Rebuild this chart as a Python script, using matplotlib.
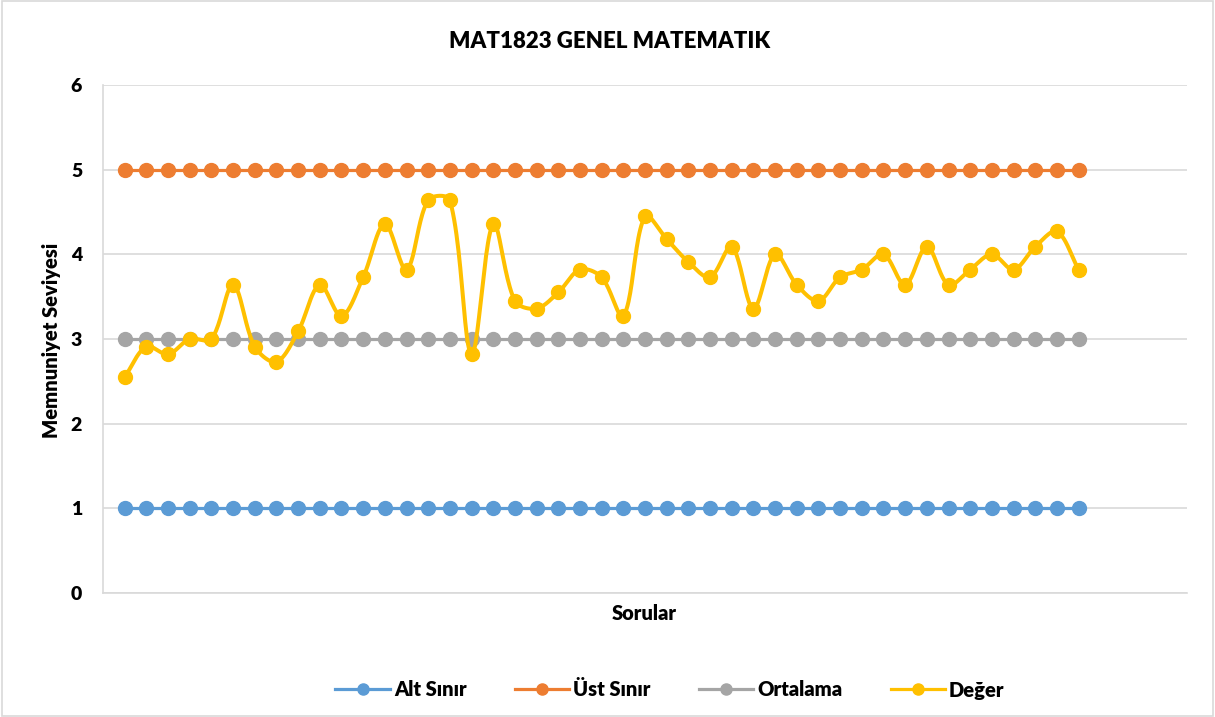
import numpy as np
import matplotlib
matplotlib.use("Agg")
import matplotlib.pyplot as plt
from matplotlib.lines import Line2D
from matplotlib.patches import Rectangle

plt.rcParams['font.family'] = ['Lato', 'DejaVu Sans']

title = "MAT1823 GENEL MATEMATIK"
ylabel = "Memnuniyet Seviyesi"
xlabel = "Sorular"
series_names = ["Alt Sınır", "Üst Sınır", "Ortalama", "Değer"]
colors = ["#5B9BD5", "#ED7D31", "#A5A5A5", "#FFC000"]

n_questions = 45
alt_sinir = [1] * n_questions
ust_sinir = [5] * n_questions
ortalama = [3] * n_questions
deger = [2.55, 2.91, 2.82, 3.00, 3.00, 3.64, 2.91, 2.73, 3.09, 3.64,
         3.27, 3.73, 4.36, 3.82, 4.64, 4.64, 2.82, 4.36, 3.45, 3.36,
         3.55, 3.82, 3.73, 3.27, 4.45, 4.18, 3.91, 3.73, 4.09, 3.36,
         4.00, 3.64, 3.45, 3.73, 3.82, 4.00, 3.64, 4.09, 3.64, 3.82,
         4.00, 3.82, 4.09, 4.27, 3.82]
yticks = [0, 1, 2, 3, 4, 5, 6]

x = np.arange(1, n_questions + 1)

fig = plt.figure(figsize=(12.15, 7.17), dpi=100)
fig.patches.append(Rectangle((0.002, 0.002), 0.996, 0.996, transform=fig.transFigure,
                             fill=False, edgecolor="#D9D9D9", linewidth=1.2))
ax = fig.add_axes([103/1215, 1-593/717, 1084/1215, 508/717])
ax.set_xlim(0, 50)
ax.set_ylim(0, 6)


def smooth(xs, ys, steps=24):
    # Excel-style smoothed line: Bezier segments with chord-length scaled tangents
    pts = ax.transData.transform(np.column_stack([xs, ys]).astype(float))
    P = np.vstack([pts[0], pts, pts[-1]])
    out = []
    t = np.linspace(0, 1, steps, endpoint=False)[:, None]
    for i in range(1, len(P) - 2):
        p0, p1, p2, p3 = P[i-1], P[i], P[i+1], P[i+2]
        d01 = np.linalg.norm(p1 - p0); d12 = np.linalg.norm(p2 - p1); d23 = np.linalg.norm(p3 - p2)
        s1 = d12 / (3 * (d01 + d12)) if (d01 + d12) > 0 else 0
        s2 = d12 / (3 * (d12 + d23)) if (d12 + d23) > 0 else 0
        c1 = p1 + (p2 - p0) * s1
        c2 = p2 - (p3 - p1) * s2
        b = (1-t)**3*p1 + 3*(1-t)**2*t*c1 + 3*(1-t)*t**2*c2 + t**3*p2
        out.append(b)
    out.append(pts[-1][None, :])
    out = np.vstack(out)
    d = ax.transData.inverted().transform(out)
    return d[:, 0], d[:, 1]


lw = 2.3
ms = 10
for vals, c in zip([alt_sinir, ust_sinir, ortalama], colors[:3]):
    ax.plot(x, vals, color=c, lw=lw, marker='o', ms=ms, zorder=3)
sx, sy = smooth(x, deger)
ax.plot(sx, sy, color=colors[3], lw=2.9, zorder=4, solid_capstyle='round')
ax.plot(x, deger, ls='none', color=colors[3], marker='o', ms=ms, zorder=5)

ax.set_yticks(yticks)
ax.set_yticklabels([str(v) for v in yticks], fontweight='heavy', fontsize=14)
ax.set_xticks([])
ax.grid(axis='y', color='#D9D9D9', lw=1.2, zorder=0)
ax.set_axisbelow(True)
for s in ['top', 'right']:
    ax.spines[s].set_visible(False)
ax.spines['left'].set_color('#D9D9D9')
ax.spines['left'].set_linewidth(1.2)
ax.spines['bottom'].set_color('#D9D9D9')
ax.spines['bottom'].set_linewidth(1.2)
ax.tick_params(axis='y', length=0, pad=15)

fig.text(52/1215, 1-340/717, ylabel, rotation=90, ha='center', va='center',
         fontweight='heavy', fontsize=14.5)
fig.text(644/1215, 1-613/717, xlabel, ha='center', va='center',
         fontweight='heavy', fontsize=14.5)
fig.text(610/1215, 1-41/717, title, ha='center', va='center', fontweight='heavy', fontsize=16)

handles = [Line2D([0], [0], color=c, lw=2.3, marker='o', ms=8) for c in colors]
fig.legend(handles, series_names, loc='center', bbox_to_anchor=(670/1215, 1-690/717),
           ncol=4, frameon=False, prop={'weight': 'heavy', 'size': 14.5},
           handlelength=2.7, columnspacing=2.4, handletextpad=0.2)

fig.savefig("out.png", dpi=100)
